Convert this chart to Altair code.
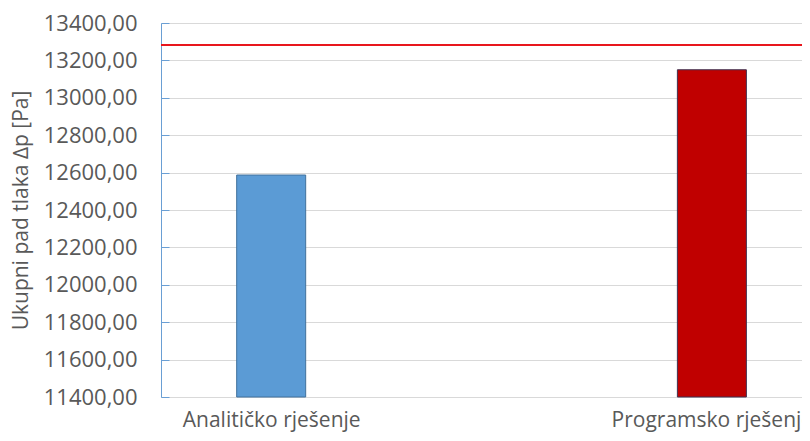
import altair as alt
import pandas as pd

categories = ["Analitičko rješenje", "Programsko rješenje"]
positions = [0, 2]
values = [12587, 13150]
colors = ["#5b9bd5", "#c00000"]
strokes = ["#41719c", "#3f3151"]
reference_value = [13283]
y_ticks = [11400, 11600, 11800, 12000, 12200, 12400, 12600, 12800, 13000, 13200, 13400]

df = pd.DataFrame({"cat": categories, "pos": positions, "val": values,
                   "col": colors, "stroke": strokes})
ref = pd.DataFrame({"val": reference_value})

FONT = "Open Sans"
GRAY = "#595959"

yscale = alt.Scale(domain=[11400, 13400], nice=False, zero=False, padding=0)
xscale = alt.Scale(domain=[-0.5, 2.409], nice=False, zero=False, padding=0)

label_expr = "datum.value == 0 ? 'Analitičko rješenje' : (datum.value == 2 ? 'Programsko rješenje' : '')"

bars = alt.Chart(df).mark_bar(width=69, strokeWidth=1).encode(
    x=alt.X("pos:Q", scale=xscale, title=None,
            axis=alt.Axis(values=positions, labelExpr=label_expr, ticks=False, grid=False,
                          domainColor="#d9d9d9", domainWidth=1,
                          labelFont=FONT, labelFontSize=21, labelColor=GRAY,
                          labelPadding=12, labelFlush=False, labelOverlap=False,
                          labelLimit=0)),
    y=alt.Y("val:Q", scale=yscale, title="Ukupni pad tlaka ∆p [Pa]",
            axis=alt.Axis(values=y_ticks,
                          labelExpr="replace(format(datum.value, '.2f'), '.', ',')",
                          ticks=False, grid=True, gridColor="#d9d9d9", gridWidth=1,
                          domainColor="#6a9fd4", domainWidth=1,
                          labelFont=FONT, labelFontSize=22, labelColor=GRAY, labelPadding=24,
                          titleFont=FONT, titleFontSize=21, titleColor=GRAY,
                          titleFontWeight="normal", titlePadding=12)),
    y2=alt.Y2(datum=11400),
    color=alt.Color("col:N", scale=None),
    stroke=alt.Stroke("stroke:N", scale=None),
)

tick_layer = alt.Chart(df).mark_point(opacity=0).encode(
    y=alt.Y("val:Q", scale=yscale,
            axis=alt.Axis(orient="left", offset=-8, values=y_ticks, labels=False,
                          domain=False, grid=False, ticks=True, tickSize=8,
                          tickColor="#6a9fd4", tickWidth=1, title=None)),
)

rule = alt.Chart(ref).mark_rule(color="#e8161d", strokeWidth=2).encode(
    y=alt.Y("val:Q", scale=yscale)
)

chart = alt.layer(bars, tick_layer, rule).resolve_axis(y="independent").properties(
    width=641, height=374,
    autosize=alt.AutoSizeParams(type="none"),
    padding={"left": 153, "top": 15, "right": 0, "bottom": 36},
).configure_view(stroke=None)

chart.save("out.html", embed_options={"renderer": "svg", "actions": False})
